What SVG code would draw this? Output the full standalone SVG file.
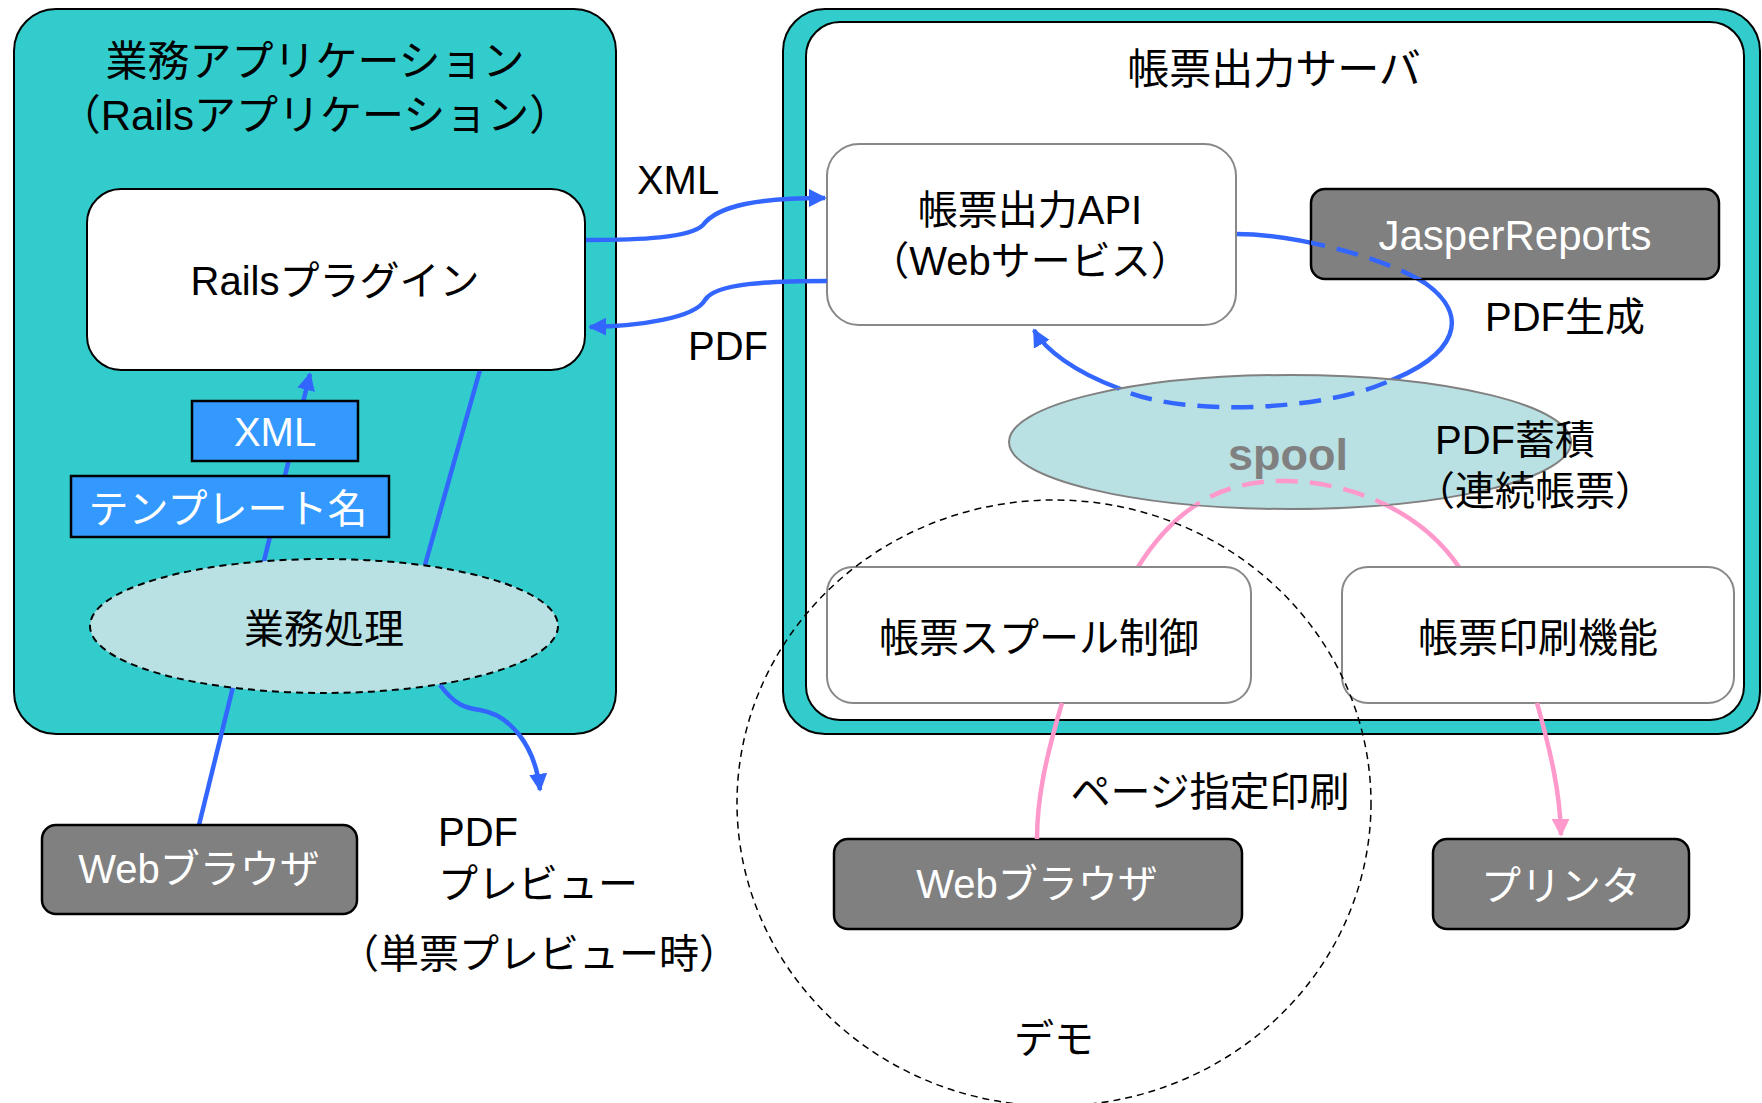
<svg xmlns="http://www.w3.org/2000/svg" width="1762" height="1103" viewBox="0 0 1762 1103">
<style>
text{font-family:"Liberation Sans","Noto Sans CJK JP",sans-serif;font-size:40px;fill:#000;text-anchor:middle}
.w{fill:#fff}
.t{font-size:42px}
.big{fill:#33CCCC;stroke:#000;stroke-width:2}
.white{fill:#fff;stroke:#000;stroke-width:2}
.soft{fill:#fff;stroke:#888;stroke-width:2}
.gray{fill:#808080;stroke:#000;stroke-width:2.5}
.blue{fill:#3399FF;stroke:#000;stroke-width:2.5}
.ell{fill:#B9E0E3}
.bl{fill:none;stroke:#3366FF;stroke-width:4.5}
.pk{fill:none;stroke:#FF99CC;stroke-width:4.5}
.dash{stroke-dasharray:22 12}
</style>
<defs>
<marker id="ab" viewBox="0 0 10 10" refX="9" refY="5" markerWidth="4" markerHeight="4" orient="auto" markerUnits="strokeWidth"><path d="M0,0 L10,5 L0,10 z" fill="#3366FF"/></marker>
<marker id="ap" viewBox="0 0 10 10" refX="9" refY="5" markerWidth="4" markerHeight="4" orient="auto" markerUnits="strokeWidth"><path d="M0,0 L10,5 L0,10 z" fill="#FF99CC"/></marker>
<clipPath id="cl"><rect x="1311" y="189" width="408" height="90" rx="14"/><ellipse cx="1290" cy="442" rx="281" ry="67"/></clipPath>
<clipPath id="cs"><ellipse cx="1290" cy="442" rx="281" ry="67"/></clipPath>
</defs>

<g id="app">
<rect class="big" x="14" y="9" width="602" height="725" rx="42"/>
<text class="t" x="315" y="76">業務アプリケーション</text>
<text class="t" x="315" y="130">（Railsアプリケーション）</text>
</g>
<g id="server">
<rect class="big" x="783" y="9" width="977" height="725" rx="42"/>
<rect class="white" x="806" y="22" width="938" height="698" rx="34"/>
<text class="t" x="1274" y="84">帳票出力サーバ</text>
</g>

<g id="connectors-under">
<path class="bl" d="M199,825 L310,374" marker-end="url(#ab)"/>
<path class="bl" d="M480,370 L425,565"/>
<path class="bl" d="M1236,234 C1290,234 1380,255 1425,283 C1470,315 1460,355 1382,384 C1320,410 1180,418 1118,388 C1075,372 1045,350 1034,330" marker-end="url(#ab)"/>
<path class="pk" d="M1138,567 C1180,500 1230,480 1287,481 C1350,482 1420,510 1459,567"/>
</g>

<g id="rails"><rect class="white" x="87" y="189" width="498" height="181" rx="34"/><text x="335" y="295">Railsプラグイン</text></g>
<g id="xml"><rect class="blue" x="192" y="401" width="166" height="60"/><text class="w" x="275" y="446">XML</text></g>
<g id="tmpl"><rect class="blue" x="71" y="476" width="318" height="61"/><text class="w" x="228" y="523">テンプレート名</text></g>
<g id="gyomu"><ellipse class="ell" cx="324" cy="626" rx="234" ry="67" stroke="#000" stroke-width="2" stroke-dasharray="7 5"/><text x="324" y="643">業務処理</text></g>
<g id="browser1"><rect class="gray" x="42" y="825" width="315" height="89" rx="14"/><text class="w" x="199" y="883">Webブラウザ</text></g>

<g id="api"><rect class="soft" x="827" y="144" width="409" height="181" rx="32"/><text x="1030" y="224">帳票出力API</text><text x="1030" y="275">（Webサービス）</text></g>
<g id="jasper"><rect class="gray" x="1311" y="189" width="408" height="90" rx="14"/><text class="w t" x="1515" y="250">JasperReports</text></g>
<g id="spool"><ellipse class="ell" cx="1290" cy="442" rx="281" ry="67" stroke="#808080" stroke-width="2"/><text x="1288" y="470" style="font-weight:bold;font-size:45px;fill:#808080">spool</text></g>
<g id="spoolctl"><rect class="soft" x="827" y="567" width="424" height="136" rx="26"/><text x="1039" y="652">帳票スプール制御</text></g>
<g id="print"><rect class="soft" x="1342" y="567" width="392" height="136" rx="26"/><text x="1538" y="652">帳票印刷機能</text></g>
<g id="browser2"><rect class="gray" x="834" y="839" width="408" height="90" rx="14"/><text class="w" x="1037" y="898">Webブラウザ</text></g>
<g id="printer"><rect class="gray" x="1433" y="839" width="256" height="90" rx="14"/><text class="w" x="1561" y="900">プリンタ</text></g>
<g id="demo"><ellipse cx="1054" cy="803" rx="317" ry="303" fill="none" stroke="#000" stroke-width="1.5" stroke-dasharray="7 5"/><text x="1054" y="1053">デモ</text></g>

<g id="connectors">
<path class="bl" d="M586,240 C640,240 690,238 703,225 C718,205 760,198 825,198" marker-end="url(#ab)"/>
<path class="bl" d="M827,281 C770,281 715,283 705,300 C695,318 640,326 590,327" marker-end="url(#ab)"/>
<path class="bl" d="M440,685 C455,705 465,708 480,710 C510,715 535,745 540,790" marker-end="url(#ab)"/>
<path class="bl dash" clip-path="url(#cl)" d="M1236,234 C1290,234 1380,255 1425,283 C1470,315 1460,355 1382,384 C1320,410 1180,418 1118,388 C1075,372 1045,350 1034,330"/>
<path class="pk dash" clip-path="url(#cs)" d="M1138,567 C1180,500 1230,480 1287,481 C1350,482 1420,510 1459,567"/>
<path class="pk" d="M1062,703 C1045,760 1037,800 1037,839"/>
<path class="pk" d="M1537,703 C1550,750 1560,790 1561,835" marker-end="url(#ap)"/>
</g>

<g id="labels">
<text x="678" y="194">XML</text>
<text x="728" y="360">PDF</text>
<text x="1565" y="331">PDF生成</text>
<text x="1515" y="454">PDF蓄積</text>
<text x="1535" y="505">（連続帳票）</text>
<text x="1210" y="806">ページ指定印刷</text>
<text x="438" y="846" style="text-anchor:start">PDF</text>
<text x="438" y="898" style="text-anchor:start">プレビュー</text>
<text x="539" y="968">（単票プレビュー時）</text>
</g>
</svg>
